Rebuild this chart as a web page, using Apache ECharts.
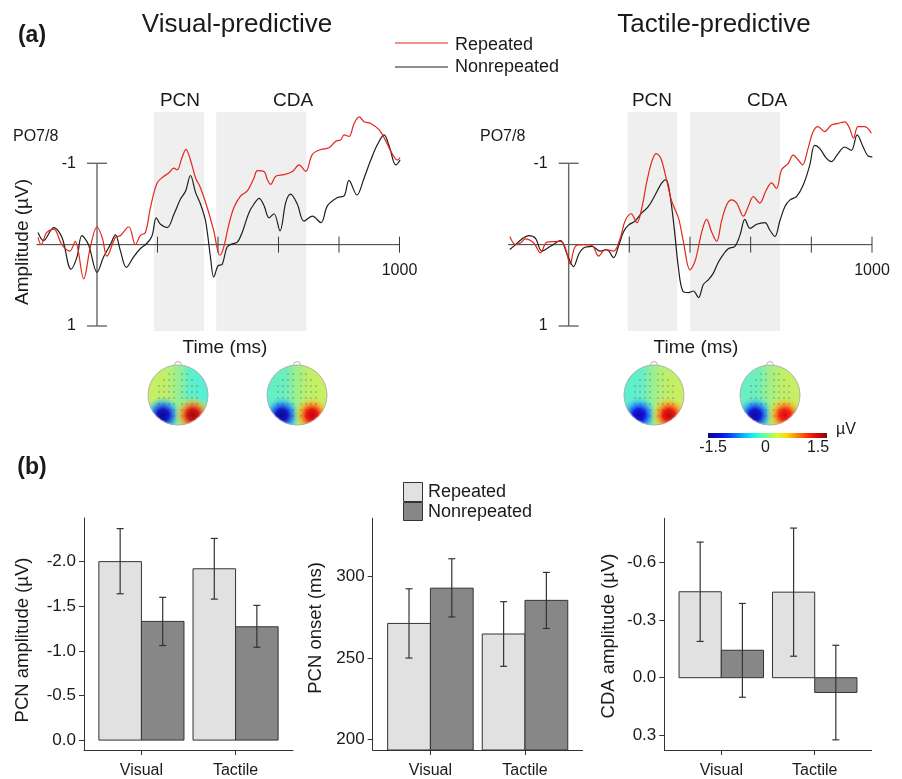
<!DOCTYPE html>
<html><head><meta charset="utf-8">
<script src="https://cdn.jsdelivr.net/npm/echarts@6/dist/echarts.min.js"></script>
<style>html,body{margin:0;padding:0;background:#fff}#c{width:902px;height:779px}</style>
</head><body><div id="c"></div>
<script>
// ---------------- DATA ----------------
// ERP waveforms at PO7/8: [time (ms), amplitude (µV)] (negative plotted up)
const visRepeated = [[-195,-0.09],[-185,0],[-166,-0.15],[-143,-0.19],[-116,0],[-90,0.08],[-72,-0.04],[-44,0.42],[-22,0.03],[0,-0.22],[17,-0.09],[33,0.14],[61,-0.09],[77,-0.11],[105,-0.22],[127,0],[143,-0.11],[160,-0.15],[177,-0.46],[199,-0.76],[221,-0.84],[237,-0.88],[254,-0.94],[265,-0.92],[281,-1.07],[294,-1.17],[309,-1.04],[326,-0.82],[342,-0.70],[364,-0.46],[386,-0.17],[406,0.13],[419,0.03],[436,-0.25],[453,-0.46],[475,-0.60],[497,-0.66],[519,-0.82],[530,-0.91],[552,-0.90],[563,-0.80],[574,-0.74],[591,-0.84],[618,-0.86],[646,-0.90],[668,-0.98],[690,-0.90],[712,-1.11],[740,-1.17],[767,-1.19],[789,-1.27],[806,-1.29],[817,-1.35],[833,-1.33],[850,-1.49],[867,-1.57],[883,-1.51],[905,-1.49],[933,-1.41],[955,-1.27],[977,-1.11],[993,-1.04],[1002,-1.07]];
const visNonrepeated = [[-195,-0.15],[-177,-0.05],[-143,-0.21],[-116,-0.09],[-86,0.30],[-66,0.15],[-50,-0.11],[-28,0],[0,0.34],[22,0.15],[44,0],[61,-0.12],[77,0.07],[97,0.28],[121,0.15],[143,0.05],[166,-0.02],[182,-0.11],[196,-0.33],[210,-0.25],[232,-0.21],[254,-0.37],[276,-0.56],[293,-0.66],[309,-0.85],[326,-0.64],[342,-0.50],[359,-0.29],[375,0.15],[386,0.40],[400,0.26],[414,0.24],[430,0.03],[447,-0.01],[464,-0.03],[480,-0.15],[502,-0.39],[519,-0.50],[536,-0.57],[552,-0.48],[569,-0.33],[585,-0.38],[605,-0.17],[624,-0.52],[640,-0.62],[662,-0.50],[684,-0.29],[712,-0.35],[740,-0.27],[762,-0.48],[795,-0.58],[817,-0.60],[833,-0.79],[859,-0.61],[883,-0.82],[905,-1.04],[927,-1.23],[949,-1.35],[966,-1.21],[988,-0.98],[1002,-1.04]];
const tacRepeated = [[-194,-0.10],[-175,0],[-159,-0.02],[-143,-0.07],[-115,-0.02],[-93,0.10],[-71,-0.03],[-27,-0.04],[-11,0.04],[5,0.24],[22,0.02],[49,0],[77,0.01],[99,0.14],[121,0.06],[148,0.08],[170,-0.08],[186,-0.29],[206,-0.38],[225,-0.27],[241,-0.45],[258,-0.78],[274,-1.02],[288,-1.12],[304,-1.06],[321,-0.82],[340,-0.53],[362,-0.33],[378,-0.04],[400,0.31],[417,0.20],[439,-0.16],[455,-0.31],[471,-0.16],[488,-0.04],[504,-0.29],[521,-0.49],[537,-0.55],[554,-0.51],[576,-0.35],[592,-0.47],[609,-0.59],[630,-0.51],[650,-0.66],[669,-0.76],[685,-0.69],[702,-0.92],[724,-1.00],[740,-1.10],[757,-1.04],[771,-0.98],[789,-1.18],[806,-1.39],[822,-1.45],[844,-1.39],[866,-1.47],[888,-1.49],[910,-1.51],[926,-1.43],[939,-1.31],[954,-1.45],[976,-1.45],[998,-1.37]];
const tacNonrepeated = [[-194,0.06],[-175,0],[-154,-0.07],[-132,-0.11],[-110,-0.08],[-88,0.08],[-60,0.02],[-27,-0.05],[-5,0.12],[16,0.27],[33,0.12],[49,0.04],[77,0.02],[104,0.08],[126,0.06],[148,0.16],[164,0.02],[181,-0.16],[197,-0.24],[219,-0.29],[241,-0.39],[263,-0.47],[285,-0.61],[307,-0.76],[321,-0.80],[334,-0.61],[348,-0.20],[362,0.29],[376,0.57],[395,0.59],[411,0.57],[428,0.65],[444,0.49],[461,0.43],[477,0.35],[493,0.22],[510,0.12],[526,0.05],[548,0.02],[565,-0.12],[581,-0.31],[598,-0.20],[620,-0.25],[647,-0.27],[663,-0.18],[680,-0.10],[696,-0.29],[713,-0.47],[730,-0.55],[751,-0.59],[773,-0.73],[795,-0.98],[811,-1.22],[828,-1.18],[850,-1.06],[866,-1.02],[888,-1.12],[910,-1.20],[932,-1.16],[951,-1.35],[971,-1.20],[987,-1.09],[1001,-1.08]];

const erpXRange = [-200, 1000];
const erpXTicks = [200, 400, 600, 800, 1000];
const erpXTickLabels = [1000];
const erpYTicks = [-1, 1];
const visPcnWindow = [188, 354];
const visCdaWindow = [394, 692];
const tacPcnWindow = [195, 358];
const tacCdaWindow = [400, 697];

// Scalp topographies (µV): posterior blob amplitudes and lateral background level
const topoBlue  = [-1.5, -1.5, -1.4, -1.45];
const topoRed   = [1.45, 1.35, 1.35, 1.25];
const topoBgLeft  = [0.22, -0.22, -0.25, -0.2];
const topoBgRight = [-0.28, 0.22, 0.22, 0.22];
const colorbarRange = [-1.5, 1.5];
const colorbarTicks = [-1.5, 0, 1.5];

// Bar charts
const barCategories = ['Visual', 'Tactile'];
const pcnAmpRepeated = [-2.00, -1.92];
const pcnAmpRepeatedCI = [[-2.37, -1.64], [-2.26, -1.58]];
const pcnAmpNonrepeated = [-1.33, -1.27];
const pcnAmpNonrepeatedCI = [[-1.60, -1.06], [-1.51, -1.04]];
const pcnAmpTicks = [-2.0, -1.5, -1.0, -0.5, 0.0];

const pcnOnsetRepeated = [271.2, 264.7];
const pcnOnsetRepeatedCI = [[249.9, 292.5], [244.8, 284.6]];
const pcnOnsetNonrepeated = [292.9, 285.4];
const pcnOnsetNonrepeatedCI = [[275.2, 311.0], [268.1, 302.6]];
const pcnOnsetTicks = [200, 250, 300];

const cdaAmpRepeated = [-0.448, -0.446];
const cdaAmpRepeatedCI = [[-0.707, -0.189], [-0.780, -0.112]];
const cdaAmpNonrepeated = [-0.143, 0.077];
const cdaAmpNonrepeatedCI = [[-0.387, 0.102], [-0.169, 0.324]];
const cdaAmpTicks = [-0.6, -0.3, 0.0, 0.3];

// ---------------- RENDER ----------------
const FONTF = '"Liberation Sans", Arial, Helvetica, sans-serif';
const fnt = (s, w) => (w || 'normal') + ' ' + s + 'px ' + FONTF;
const TXT = '#1a1a1a';
const RED = '#e3261b';
const BLK = '#1e1e1e';
const LIGHT = '#e1e1e1';
const DARK = '#878787';

function txt(text, x, y, size, o) {
  o = o || {};
  const a = o.align || 'center';
  return { type: 'text', x: x, y: y, rotation: o.rot || 0, z: 50,
    style: { text: text, font: fnt(size, o.weight), fill: o.color || TXT,
      textAlign: a, align: a, textVerticalAlign: 'middle', verticalAlign: 'middle' } };
}

// jet colour map; 'soft' blends toward a light grey like the printed maps
function jet(v, alpha, soft) {
  let t = (v - colorbarRange[0]) / (colorbarRange[1] - colorbarRange[0]);
  t = Math.max(0, Math.min(1, t));
  const s = soft || 0;
  const c = x => Math.round((255 * Math.max(0, Math.min(1, 1.5 - Math.abs(4 * t - x)))) * (1 - s) + 200 * s);
  return 'rgba(' + c(3) + ',' + c(2) + ',' + c(1) + ',' + (alpha == null ? 1 : alpha) + ')';
}

function topo(cx, cy, i) {
  const R = 30, els = [];
  const bl = topoBgLeft[i], br = topoBgRight[i], S = 0.3;
  els.push({ type: 'circle', z: 20, shape: { cx, cy, r: R },
    style: { fill: new echarts.graphic.LinearGradient(0, 0, 1, 0, [
      { offset: 0, color: jet(bl, 1, S) }, { offset: 0.3, color: jet(bl * 0.8, 1, S) },
      { offset: 0.5, color: jet((bl + br) / 2 + 0.05, 1, S) },
      { offset: 0.7, color: jet(br * 0.8, 1, S) }, { offset: 1, color: jet(br, 1, S) }]) } });
  const blob = (bx, by, v) => ({ type: 'ellipse', z: 21, shape: { cx: bx, cy: by, rx: 21, ry: 19 },
    style: { fill: new echarts.graphic.RadialGradient(0.5, 0.5, 0.5, [
      { offset: 0, color: jet(v, 1, 0.05) }, { offset: 0.3, color: jet(v * 0.85, 1, 0.1) },
      { offset: 0.6, color: jet(v * 0.5, 0.85, 0.2) }, { offset: 1, color: jet(v * 0.2, 0, S) }]) } });
  els.push(blob(cx - 15, cy + 20, topoBlue[i]));
  els.push(blob(cx + 15, cy + 20, topoRed[i]));
  for (let dy = -21; dy <= 22; dy += 6) {
    for (let dx = 4; dx <= 24; dx += 5) {
      if (dx * dx + dy * dy > 24 * 24) continue;
      [-1, 1].forEach(s => els.push({ type: 'circle', z: 22, shape: { cx: cx + s * dx, cy: cy + dy, r: 0.7 }, style: { fill: 'rgba(60,60,60,0.6)' } }));
    }
  }
  els.push({ type: 'circle', z: 23, shape: { cx, cy, r: R + 8 }, style: { fill: 'none', stroke: '#fff', lineWidth: 15 } });
  els.push({ type: 'arc', z: 24, shape: { cx, cy: cy - R, r: 3.5, startAngle: Math.PI, endAngle: 2 * Math.PI }, style: { fill: 'none', stroke: '#aaa', lineWidth: 0.9 } });
  els.push({ type: 'circle', z: 24, shape: { cx, cy, r: R }, style: { fill: 'none', stroke: '#aaa', lineWidth: 0.9 } });
  return els;
}

const graphics = [];
graphics.push(txt('(a)', 32, 36, 23, { weight: 'bold' }));
graphics.push(txt('(b)', 32, 468, 23, { weight: 'bold' }));
graphics.push(txt('Visual-predictive', 237, 25, 26));
graphics.push(txt('Tactile-predictive', 714, 25, 26));
graphics.push({ type: 'line', z: 50, shape: { x1: 395, y1: 43, x2: 448, y2: 43 }, style: { stroke: RED, lineWidth: 1.2 } });
graphics.push({ type: 'line', z: 50, shape: { x1: 395, y1: 67, x2: 448, y2: 67 }, style: { stroke: BLK, lineWidth: 1.2 } });
graphics.push(txt('Repeated', 455, 45, 18, { align: 'left' }));
graphics.push(txt('Nonrepeated', 455, 67, 18, { align: 'left' }));
graphics.push(txt('PO7/8', 13, 137, 16, { align: 'left' }));
graphics.push(txt('PO7/8', 480, 137, 16, { align: 'left' }));
graphics.push(txt('PCN', 180, 101, 19));
graphics.push(txt('CDA', 293, 101, 19));
graphics.push(txt('PCN', 652, 101, 19));
graphics.push(txt('CDA', 767, 101, 19));
graphics.push(txt('Amplitude (µV)', 23, 242, 19, { rot: Math.PI / 2 }));
graphics.push(txt('Time (ms)', 225, 348, 19));
graphics.push(txt('Time (ms)', 696, 348, 19));
[[178, 395], [297, 395], [654, 395], [770, 395]].forEach((c, i) => topo(c[0], c[1], i).forEach(e => graphics.push(e)));
// colour bar
const cbStops = [];
for (let k = 0; k <= 12; k++) { const v = colorbarRange[0] + (colorbarRange[1] - colorbarRange[0]) * k / 12; cbStops.push({ offset: k / 12, color: jet(v, 1, 0.05) }); }
graphics.push({ type: 'rect', z: 30, shape: { x: 708, y: 433, width: 119, height: 5 }, style: { fill: new echarts.graphic.LinearGradient(0, 0, 1, 0, cbStops) } });
colorbarTicks.forEach(v => graphics.push(txt(String(v), 713 + (v - colorbarRange[0]) / (colorbarRange[1] - colorbarRange[0]) * 105, 448, 16)));
graphics.push(txt('µV', 836, 430, 16, { align: 'left' }));
// bar legend
graphics.push({ type: 'rect', z: 50, shape: { x: 403.5, y: 482.5, width: 19, height: 19 }, style: { fill: LIGHT, stroke: '#333', lineWidth: 1 } });
graphics.push({ type: 'rect', z: 50, shape: { x: 403.5, y: 502.5, width: 19, height: 18 }, style: { fill: DARK, stroke: '#333', lineWidth: 1 } });
graphics.push(txt('Repeated', 428, 492, 18, { align: 'left' }));
graphics.push(txt('Nonrepeated', 428, 512, 18, { align: 'left' }));
graphics.push(txt('PCN amplitude (µV)', 23, 640, 18.5, { rot: Math.PI / 2 }));
graphics.push(txt('PCN onset (ms)', 316, 628, 18.5, { rot: Math.PI / 2 }));
graphics.push(txt('CDA amplitude (µV)', 609, 636, 18.5, { rot: Math.PI / 2 }));

// ERP helpers
function erpSeries(gi, rep, non, pcnW, cdaW) {
  const yTop = -1.63, yBot = 1.06;
  return [
    { type: 'line', xAxisIndex: gi, yAxisIndex: gi, data: [], z: 1, silent: true,
      markArea: { silent: true, itemStyle: { color: '#efefef' }, label: { show: false },
        data: [[{ xAxis: pcnW[0], yAxis: yTop }, { xAxis: pcnW[1], yAxis: yBot }], [{ xAxis: cdaW[0], yAxis: yTop }, { xAxis: cdaW[1], yAxis: yBot }]] } },
    { type: 'line', xAxisIndex: gi, yAxisIndex: gi, z: 2, silent: true, symbol: 'none',
      data: [[erpXRange[0], 0], [erpXRange[1], 0]], lineStyle: { color: '#3a3a3a', width: 1 } },
    { type: 'line', xAxisIndex: gi, yAxisIndex: gi, z: 2, silent: true, symbol: 'none',
      data: [[0, erpYTicks[0]], [0, erpYTicks[1]]], lineStyle: { color: '#666', width: 1.4 } },
    { type: 'custom', xAxisIndex: gi, yAxisIndex: gi, z: 2, silent: true,
      data: erpXTicks.map(t => [t, 0]),
      renderItem: (p, api) => { const c = api.coord([api.value(0), api.value(1)]);
        return { type: 'line', shape: { x1: c[0], y1: c[1] - 8, x2: c[0], y2: c[1] + 8 }, style: { stroke: '#3a3a3a', lineWidth: 1 } }; } },
    { type: 'custom', xAxisIndex: gi, yAxisIndex: gi, z: 2, silent: true,
      data: erpXTickLabels.map(t => [t, 0]),
      renderItem: (p, api) => { const c = api.coord([api.value(0), api.value(1)]);
        return { type: 'text', x: c[0], y: c[1] + 26, style: { text: String(api.value(0)), font: fnt(16), fill: TXT, textAlign: 'center', align: 'center', textVerticalAlign: 'middle', verticalAlign: 'middle' } }; } },
    { type: 'custom', xAxisIndex: gi, yAxisIndex: gi, z: 2, silent: true,
      data: erpYTicks.map(v => [0, v]),
      renderItem: (p, api) => { const c = api.coord([api.value(0), api.value(1)]);
        return { type: 'group', children: [
          { type: 'line', shape: { x1: c[0] - 10, y1: c[1], x2: c[0] + 10, y2: c[1] }, style: { stroke: '#666', lineWidth: 1.4 } },
          { type: 'text', x: c[0] - 21, y: c[1], style: { text: String(api.value(1)), font: fnt(16), fill: TXT, textAlign: 'right', align: 'right', textVerticalAlign: 'middle', verticalAlign: 'middle' } }] }; } },
    { name: 'Nonrepeated', type: 'line', xAxisIndex: gi, yAxisIndex: gi, z: 3, silent: true, symbol: 'none', smooth: 0.35,
      data: non, lineStyle: { color: BLK, width: 1.2 } },
    { name: 'Repeated', type: 'line', xAxisIndex: gi, yAxisIndex: gi, z: 4, silent: true, symbol: 'none', smooth: 0.35,
      data: rep, lineStyle: { color: RED, width: 1.2 } }
  ];
}

const BAR_W = 0.452;
function barSeries(gi, rep, repCI, non, nonCI, base) {
  const mk = (vals, off, color) => ({ type: 'custom', xAxisIndex: gi, yAxisIndex: gi, z: 2, silent: true,
    data: vals.map((v, i) => [i + 1, v]),
    renderItem: (p, api) => { const c = api.value(0), v = api.value(1);
      const a = api.coord([c + off, base]), b = api.coord([c + off + BAR_W, v]);
      return { type: 'rect', shape: { x: Math.min(a[0], b[0]), y: Math.min(a[1], b[1]), width: Math.abs(b[0] - a[0]), height: Math.abs(b[1] - a[1]) },
        style: { fill: color, stroke: '#333', lineWidth: 1 } }; } });
  const err = (ci, off) => ({ type: 'custom', xAxisIndex: gi, yAxisIndex: gi, z: 3, silent: true,
    data: ci.map((r, i) => [i + 1, r[0], r[1]]),
    renderItem: (p, api) => { const c = api.value(0) + off + BAR_W / 2;
      const lo = api.coord([c, api.value(1)]), hi = api.coord([c, api.value(2)]);
      const st = { stroke: '#333', lineWidth: 1.2 };
      return { type: 'group', children: [
        { type: 'line', shape: { x1: lo[0], y1: lo[1], x2: hi[0], y2: hi[1] }, style: st },
        { type: 'line', shape: { x1: lo[0] - 3.5, y1: lo[1], x2: lo[0] + 3.5, y2: lo[1] }, style: st },
        { type: 'line', shape: { x1: hi[0] - 3.5, y1: hi[1], x2: hi[0] + 3.5, y2: hi[1] }, style: st }] }; } });
  return [mk(rep, -BAR_W, LIGHT), mk(non, 0, DARK), err(repCI, -BAR_W), err(nonCI, 0)];
}

const axisCol = '#333';
function barX(gi) {
  return { gridIndex: gi, type: 'value', min: 0.39, max: 2.61,
    axisLine: { show: true, onZero: false, lineStyle: { color: axisCol, width: 1 } },
    axisTick: { show: true, customValues: [1, 2], length: 5, lineStyle: { color: axisCol } },
    axisLabel: { customValues: [1, 2], formatter: v => barCategories[Math.round(v) - 1], fontSize: 16, fontFamily: FONTF, color: TXT, margin: 13 },
    splitLine: { show: false } };
}
function barY(gi, min, max, inverse, ticks, dec) {
  return { gridIndex: gi, type: 'value', min: min, max: max, inverse: inverse,
    axisLine: { show: true, onZero: false, lineStyle: { color: axisCol, width: 1 } },
    axisTick: { show: true, customValues: ticks, length: 5, lineStyle: { color: axisCol } },
    axisLabel: { customValues: ticks, formatter: v => v.toFixed(dec), fontSize: 17, fontFamily: FONTF, color: TXT, margin: 8 },
    splitLine: { show: false } };
}

const ERP_YMIN = -1.778, ERP_YMAX = 1.172;
const option = {
  animation: false,
  backgroundColor: '#fff',
  grid: [
    { left: 36.5, top: 100, width: 363, height: 240 },
    { left: 508, top: 100, width: 364, height: 240 },
    { left: 84, top: 518, width: 209, height: 234 },
    { left: 372.7, top: 518.3, width: 210, height: 234.4 },
    { left: 664.3, top: 518.3, width: 207.4, height: 234 }
  ],
  xAxis: [
    { gridIndex: 0, type: 'value', min: erpXRange[0], max: erpXRange[1], show: false },
    { gridIndex: 1, type: 'value', min: erpXRange[0], max: erpXRange[1], show: false },
    barX(2), barX(3), barX(4)
  ],
  yAxis: [
    { gridIndex: 0, type: 'value', min: ERP_YMIN, max: ERP_YMAX, inverse: true, show: false },
    { gridIndex: 1, type: 'value', min: ERP_YMIN, max: ERP_YMAX, inverse: true, show: false },
    barY(2, -2.489, 0.111, true, pcnAmpTicks, 1),
    barY(3, 193.3, 335.9, false, pcnOnsetTicks, 0),
    barY(4, -0.831, 0.377, true, cdaAmpTicks, 1)
  ],
  graphic: { elements: graphics },
  series: [].concat(
    erpSeries(0, visRepeated, visNonrepeated, visPcnWindow, visCdaWindow),
    erpSeries(1, tacRepeated, tacNonrepeated, tacPcnWindow, tacCdaWindow),
    barSeries(2, pcnAmpRepeated, pcnAmpRepeatedCI, pcnAmpNonrepeated, pcnAmpNonrepeatedCI, 0),
    barSeries(3, pcnOnsetRepeated, pcnOnsetRepeatedCI, pcnOnsetNonrepeated, pcnOnsetNonrepeatedCI, 193.3),
    barSeries(4, cdaAmpRepeated, cdaAmpRepeatedCI, cdaAmpNonrepeated, cdaAmpNonrepeatedCI, 0)
  )
};
const chart = echarts.init(document.getElementById('c'), null, { renderer: 'canvas' });
chart.setOption(option);
</script>
</body></html>
